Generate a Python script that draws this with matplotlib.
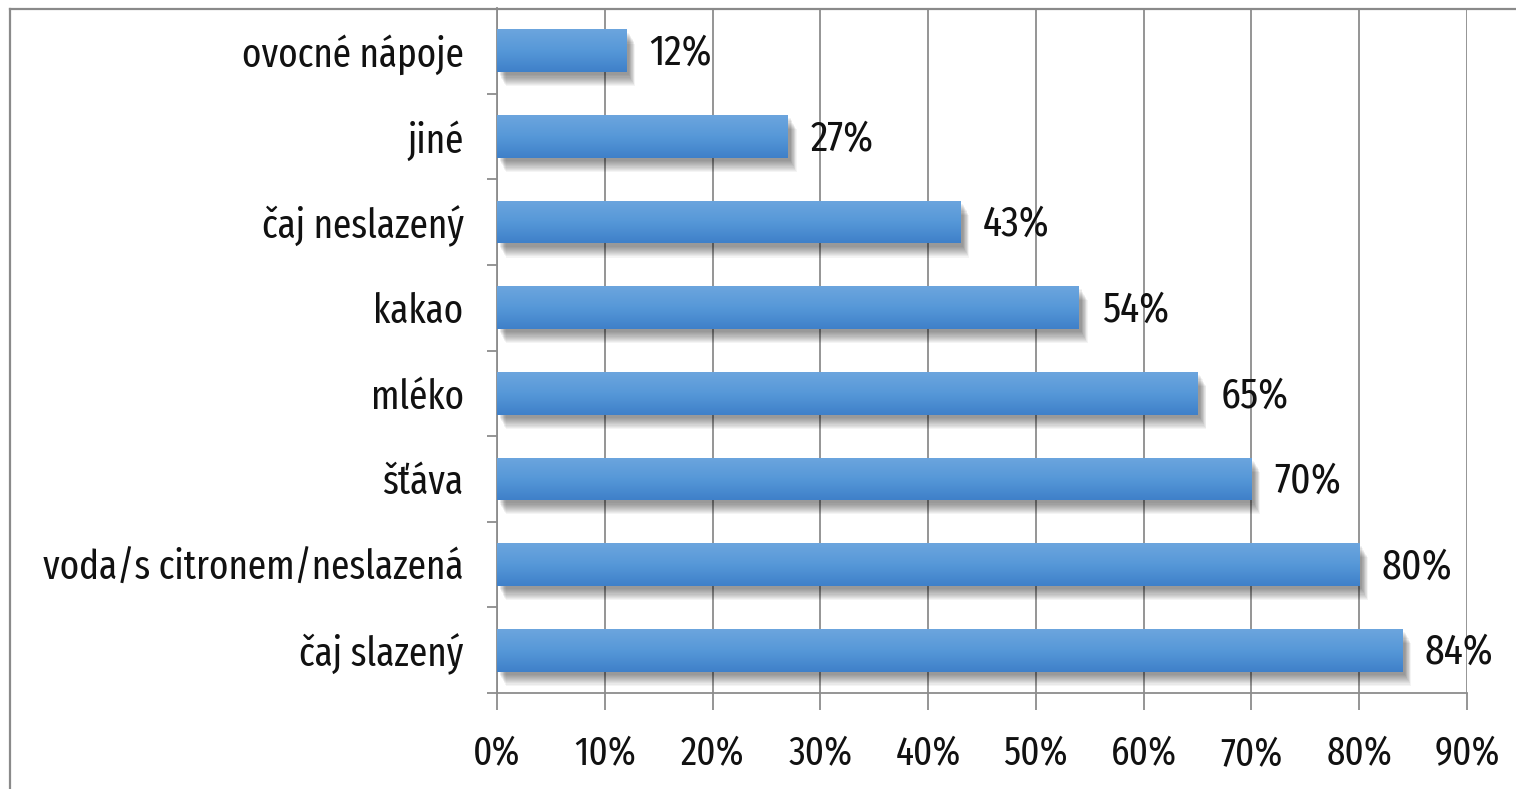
import matplotlib
matplotlib.use("Agg")
import matplotlib.pyplot as plt
import matplotlib.transforms as mtransforms
from matplotlib.patches import Rectangle
from matplotlib.ticker import FuncFormatter
from matplotlib.colors import LinearSegmentedColormap
import numpy as np

plt.rcParams['font.family'] = ['Fira Sans Extra Condensed', 'Carlito', 'DejaVu Sans']
plt.rcParams['font.weight'] = 400

categories = ["ovocné nápoje", "jiné", "čaj neslazený", "kakao", "mléko",
              "šťáva", "voda/s citronem/neslazená", "čaj slazený"]
values = [12, 27, 43, 54, 65, 70, 80, 84]
xticks = [0, 10, 20, 30, 40, 50, 60, 70, 80, 90]

W, H = 1516, 789
FS = 29
fig = plt.figure(figsize=(W / 100, H / 100), dpi=100)
ax = fig.add_axes([497 / W, 1 - 693 / H, (1467 - 497) / W, (693 - 8) / H])

# outer chart border (top and left visible)
fig.add_artist(plt.Line2D([10 / W, 10 / W], [0, 1 - 8.5 / H], transform=fig.transFigure,
                          color="#8a8a8a", lw=1.6))
fig.add_artist(plt.Line2D([10 / W, 1], [1 - 8.5 / H, 1 - 8.5 / H], transform=fig.transFigure,
                          color="#8a8a8a", lw=1.6))

n = len(categories)
ypos = np.arange(n)
bh = 0.5

ax.set_xlim(0, 90)
ax.set_ylim(n - 0.5, -0.5)

grad = np.linspace(0, 1, 64).reshape(-1, 1)
cmap = LinearSegmentedColormap.from_list("g", ["#6CA5DE", "#5698D8", "#3F80C9"])

for y, v in zip(ypos, values):
    # soft drop shadow
    for k in range(1, 12):
        off = mtransforms.offset_copy(ax.transData, fig=fig, x=2 + k * 0.6, y=-(2 + k * 1.1), units='dots')
        ax.add_patch(Rectangle((0, y - bh / 2), v, bh, transform=off,
                               facecolor="black", edgecolor="none", alpha=0.045, zorder=2))
    rect = Rectangle((0, y - bh / 2), v, bh, facecolor="none", edgecolor="none", zorder=3)
    ax.add_patch(rect)
    im = ax.imshow(grad, cmap=cmap, aspect="auto", extent=(0, v, y + bh / 2, y - bh / 2),
                   zorder=3, interpolation="bicubic")
    im.set_clip_path(rect)
    ax.text(v + 2.1, y + 0.03, f"{v}%", va="center", ha="left", fontsize=31, color="#111111", zorder=4)

ax.set_xlim(0, 90)
ax.set_ylim(n - 0.5, -0.5)

ax.set_xticks(xticks)
ax.xaxis.set_major_formatter(FuncFormatter(lambda x, p: f"{int(x)}%"))
ax.xaxis.grid(True, color="#8c8c8c", lw=1.3)
ax.set_axisbelow(True)

ax.set_yticks(ypos)
ax.set_yticklabels(categories)
ax.set_yticks(np.arange(0.5, n, 1.0), minor=True)
ax.tick_params(axis="y", which="major", length=0, pad=24, labelsize=FS, labelcolor="#111111")
ax.tick_params(axis="y", which="minor", length=7, width=1.3, color="#8c8c8c", direction="out")
ax.tick_params(axis="x", which="major", length=12, width=1.3, color="#8c8c8c", direction="out",
               pad=18, labelsize=FS, labelcolor="#111111")

for s in ["top", "right"]:
    ax.spines[s].set_visible(False)
for s in ["left", "bottom"]:
    ax.spines[s].set_color("#8c8c8c")
    ax.spines[s].set_linewidth(1.3)

fig.savefig("out.png", dpi=100)
